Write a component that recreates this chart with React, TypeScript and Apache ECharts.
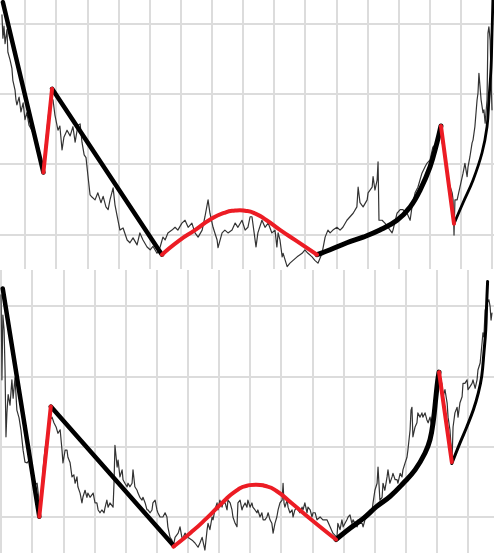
import React, { useEffect, useRef } from "react";
import * as echarts from "echarts";

// ---------- Top panel ----------
const topPrice: number[][] = [
  [2.6, 31.2], [2.9, 27.9], [3.25, 29.6], [3.6, 27.1], [4.2, 29.1], [4.5, 25.9], [5.2, 24.8], [5.8, 23.6],
  [6.1, 21.9], [6.8, 20.5], [7.1, 19.1], [7.4, 18.4], [8.1, 19.5], [8.7, 17.4], [9.4, 18.7], [10.0, 16.3],
  [10.6, 17.3], [11.3, 15.5], [12.2, 14.8], [13.2, 13.7], [14.2, 12.7], [14.8, 11.3], [15.5, 9.9], [15.8, 8.9],
  [16.4, 12.0], [17.1, 15.1], [17.7, 17.7], [18.4, 19.4], [19.0, 19.1], [19.6, 17.0], [20.6, 14.8], [21.2, 15.4],
  [21.9, 12.0], [22.5, 13.8], [23.5, 14.8], [24.5, 14.0], [25.4, 15.3], [26.1, 13.1], [27.0, 15.5], [27.7, 15.7],
  [28.3, 13.1], [29.0, 11.3], [29.6, 10.9], [30.2, 8.4], [30.9, 5.6], [31.5, 5.3], [32.5, 4.9], [33.4, 5.9],
  [34.4, 4.5], [35.1, 5.4], [36.0, 3.9], [36.7, 3.5], [37.3, 4.9], [38.3, 6.6], [38.9, 4.2], [39.6, 2.6],
  [40.5, 0.6], [41.5, 0.9], [42.8, -0.8], [43.7, -1.2], [44.7, -0.5], [46.0, -1.5], [46.9, 0.2], [47.9, -0.8],
  [49.2, -1.8], [50.2, -2.2], [51.1, -1.7], [52.4, -2.7], [53.4, -1.8], [54.3, -0.4],
  [55.0, -0.8], [55.9, 0.2], [57.2, 0.6], [58.2, 1.0], [59.1, 0.6], [60.4, 1.6], [61.4, 2.0], [62.4, 1.0],
  [63.6, 1.6], [64.6, 0.2], [65.6, -0.4], [66.9, 0.6], [67.8, 2.5], [68.8, 4.9], [69.4, 3.0], [70.4, 1.0],
  [71.7, -0.8], [72.0, -1.9], [73.3, 0.2], [74.2, 0.6], [75.2, 0.2], [76.5, 0.6], [77.5, 1.6], [78.4, 1.0],
  [79.7, 2.0], [80.7, 0.6], [81.6, 1.0], [82.3, 2.5], [82.9, 2.5], [83.6, 0.2], [84.2, -1.8], [84.8, 0.2],
  [86.1, 2.0], [87.1, 1.0], [88.1, 1.6], [89.3, 0.2], [90.3, 0.6], [90.9, -1.8], [91.3, 0.2], [91.9, -0.8],
  [92.6, -3.2], [92.9, -2.7], [94.2, -4.6], [95.1, -4.1], [96.1, -3.7], [97.4, -3.2], [99.0, -2.7], [99.9, -2.2],
  [100.9, -2.7], [102.2, -3.2], [103.1, -3.7], [104.1, -4.1], [105.4, -2.7], [106.4, -0.4], [107.3, 0.6],
  [108.0, 0.2], [108.9, 0.6], [110.2, 1.0], [111.2, 0.6], [112.1, 1.0], [113.4, 2.0], [114.4, 2.5], [115.4, 3.0],
  [116.6, 3.9], [117.0, 6.7], [117.6, 4.5], [118.6, 3.9], [119.9, 4.9], [120.2, 5.9], [121.5, 6.7], [121.8, 8.2],
  [122.4, 6.3], [123.1, 7.7], [123.4, 10.3], [123.7, 2.0], [124.7, 2.0], [125.6, 1.6], [126.6, 1.0], [127.9, 0.2],
  [128.2, 0.6], [129.5, 3.0], [130.5, 3.5], [131.4, 3.5], [132.7, 3.0], [133.7, 2.0], [134.3, 3.9], [135.3, 5.9],
  [136.2, 6.7], [137.5, 8.7], [138.5, 9.6], [139.1, 10.1], [140.1, 10.6], [141.0, 12.4], [142.3, 13.0], [143.3, 15.3],
  [144.0, 13.0], [144.3, 12.4], [144.9, 10.6], [145.9, 7.7], [147.2, 5.9], [147.5, 4.9], [147.8, -0.1], [148.1, 4.9],
  [148.8, 4.9], [149.7, 6.7], [150.7, 8.7], [151.3, 10.1], [152.0, 8.2], [152.3, 9.6], [152.9, 11.0], [153.6, 13.0],
  [153.9, 13.4], [154.5, 15.3], [155.2, 19.1], [155.5, 20.1], [155.8, 22.9], [156.5, 19.1], [157.1, 17.3], [157.4, 17.7],
  [157.8, 15.8], [158.4, 19.1], [158.7, 28.6], [159.0, 29.5], [159.4, 27.6], [159.7, 22.0], [160.0, 17.7],
];
const topBlackA: number[][] = [[2.9, 33.0], [15.9, 8.8]];
const topRed1: number[][] = [[15.9, 8.8], [18.7, 20.7]];
const topBlackB: number[][] = [[18.7, 20.7], [54.0, -2.9]];
const topRedArc: number[][] = [
  [54.0, -2.9], [59.5, -0.9], [64.6, 0.6], [69.5, 2.1], [74.0, 3.05], [77.5, 3.38], [79.0, 3.42],
  [80.7, 3.36], [84.0, 2.95], [87.6, 2.0], [92.0, 0.6], [96.7, -0.8], [103.8, -2.9],
];
const topBlackC: number[][] = [
  [103.8, -2.9], [108.0, -2.2], [113.4, -1.2], [118.6, -0.4], [124.0, 0.6], [129.5, 2.0], [133.7, 3.9],
  [136.9, 6.3], [140.1, 9.6], [142.3, 13.0], [143.6, 15.4],
];
const topRed2: number[][] = [[143.6, 15.4], [147.8, 1.5]];
const topBlackD: number[][] = [
  [147.8, 1.5], [150.7, 4.5], [153.9, 7.7], [156.8, 11.6], [158.4, 15.3], [159.0, 19.1], [159.7, 23.8],
  [160.0, 28.6], [160.3, 33.3],
];

// ---------- Bottom panel ----------
const bottomPrice: number[][] = [
  [0.0, 31.6], [0.2, 24.5], [0.3, 19.5], [0.6, 28.7], [1.0, 26.6], [1.3, 20.9], [1.6, 11.4], [1.9, 14.8],
  [2.3, 17.4], [2.9, 15.9], [3.5, 19.5], [3.9, 16.9], [4.5, 19.8], [5.1, 15.2], [5.8, 14.1], [6.4, 12.4],
  [7.1, 9.5], [7.7, 7.8], [8.4, 7.7], [9.0, 8.1], [10.0, 6.7], [10.9, 4.6], [11.6, 4.8], [12.2, 2.4],
  [12.5, 0.6], [13.5, 6.7], [14.1, 9.5], [15.1, 12.4], [15.7, 13.8], [16.4, 14.2], [17.0, 13.4], [17.7, 12.8],
  [18.3, 11.9], [19.0, 12.4], [19.6, 9.5], [19.9, 7.7], [20.6, 9.5], [21.2, 9.5], [21.5, 8.5], [22.2, 7.7],
  [22.8, 5.7], [23.4, 6.0], [23.8, 4.8], [24.4, 5.7], [24.7, 4.3], [25.4, 3.4], [26.0, 2.0], [26.3, 2.8],
  [27.0, 3.8], [27.6, 2.8], [27.9, 3.4], [28.6, 2.8], [29.6, 3.4], [30.2, 2.0], [30.8, 2.0], [31.2, 1.0],
  [31.8, 0.6], [32.4, 1.0], [33.1, 0.6], [33.4, 1.3], [34.0, 2.4], [34.4, 1.4], [35.0, 2.0], [36.0, 1.4],
  [36.3, 4.8], [36.6, 10.2], [37.3, 7.1], [37.6, 8.1], [38.2, 5.7], [38.9, 6.7], [39.2, 5.3], [39.8, 4.8],
  [40.5, 4.3], [40.8, 4.8], [41.4, 4.3], [42.1, 4.8], [42.4, 6.7], [43.0, 4.3], [43.7, 3.8], [44.0, 3.4],
  [44.6, 2.8], [45.3, 2.4], [45.6, 2.8], [46.3, 2.0], [46.9, 1.0], [47.2, 1.0], [47.9, 0.6], [48.5, 1.0],
  [48.8, 2.0], [49.5, 2.4], [50.1, 1.0], [50.4, 0.6], [51.1, 0.0], [52.0, 0.0],
  [52.7, 0.6], [53.3, 0.0], [53.6, -1.4], [54.3, -2.9], [54.9, -3.3], [55.3, -4.3], [55.9, -2.9], [56.9, -2.3],
  [57.5, -1.4], [58.1, -2.9], [58.5, -2.9], [59.1, -2.3], [60.1, -2.9], [61.4, -3.3], [62.3, -3.7], [63.3, -4.3],
  [63.9, -3.7], [64.6, -2.9], [65.5, -4.7], [66.2, -1.8], [66.5, -0.9], [67.1, -1.8], [67.8, 0.0], [68.1, -0.4],
  [68.7, 1.0], [69.4, 2.0], [69.7, 1.0], [70.3, 2.4], [71.0, 1.4], [71.3, 2.0], [72.0, 2.0], [72.6, 1.0],
  [72.9, 2.4], [73.6, 2.0], [74.2, 1.0], [74.5, 0.0], [75.2, -0.9], [75.8, -1.4], [76.1, 2.0], [76.8, 2.4],
  [77.4, 1.0], [77.7, 1.4], [78.4, 2.0], [79.0, 1.4], [79.3, 2.4], [80.0, 1.4], [80.6, 2.0], [80.9, 1.4],
  [81.6, 1.0], [82.2, 0.6], [82.5, 1.0], [83.2, 0.0], [83.8, 0.6], [84.2, -0.4], [84.8, -0.4], [85.4, 0.0],
  [85.8, 0.6], [86.4, -0.4], [87.0, -0.9], [87.4, -2.3], [88.0, -0.9], [88.6, 0.0], [89.0, 1.0], [89.6, 2.0],
  [90.3, 2.4], [90.6, 4.8], [90.9, 2.0], [91.2, 1.4], [91.9, 2.4], [92.2, 1.4], [92.8, 0.6], [93.5, 1.0],
  [93.8, 0.0], [94.4, 1.0], [95.1, 1.4], [95.4, 1.0], [96.0, 0.6], [96.7, 1.4], [97.0, 1.0], [97.6, 2.0],
  [98.3, 0.6], [98.6, 1.4], [99.3, 1.0], [99.9, 0.0], [100.2, 0.6], [100.9, 0.6], [101.5, -0.4], [102.5, 0.0],
  [103.4, -0.4], [104.7, -0.4],
  [105.7, -1.4], [106.6, -2.3], [107.9, -2.9], [108.2, -0.9], [108.9, -1.8], [109.5, -0.4], [109.9, -1.4], [110.5, -0.9],
  [111.1, -0.4], [111.5, 0.0], [112.1, 0.3], [112.7, -0.9], [113.1, -0.4], [113.7, -0.9], [114.4, -1.4], [114.7, -0.4],
  [115.3, -0.9], [116.0, -0.9], [116.3, -1.4], [116.9, -0.4], [117.6, 0.0], [117.9, 0.6], [118.5, 1.0], [119.2, 1.0],
  [119.5, 2.0], [120.1, 3.8], [120.8, 4.8], [121.1, 7.1], [121.7, 2.4], [122.4, 2.8], [122.7, 4.8], [123.3, 3.8],
  [124.0, 5.7], [124.3, 6.7], [124.9, 4.8], [125.6, 5.7], [125.9, 6.2], [126.6, 5.3], [127.2, 5.3], [127.5, 4.8],
  [128.2, 6.2], [128.8, 5.7], [129.1, 6.7], [129.8, 7.7], [130.4, 8.5], [130.7, 9.5], [131.4, 12.4], [131.7, 15.2],
  [132.0, 15.6], [132.3, 11.4], [133.0, 12.8], [133.6, 13.4], [133.9, 14.8], [134.6, 14.2], [135.2, 14.8], [135.5, 14.2],
  [136.2, 14.8], [136.8, 13.8], [137.2, 13.4], [137.8, 14.2], [138.4, 12.8], [138.8, 14.8], [139.4, 17.3], [140.0, 19.5],
  [140.7, 20.2], [141.6, 19.0], [142.0, 17.1], [142.6, 18.1], [143.3, 16.2], [143.6, 14.2], [144.2, 12.4], [144.5, 10.5],
  [144.9, 8.5], [145.2, 12.8], [145.8, 14.8], [146.5, 15.6], [146.8, 14.2], [147.4, 16.2], [148.1, 17.1], [148.4, 19.0],
  [149.0, 19.0], [149.7, 19.5], [150.0, 18.1], [150.6, 18.5], [151.3, 19.0], [151.6, 19.5], [152.3, 18.3], [152.9, 19.5],
  [153.2, 20.9], [153.9, 21.9], [154.5, 24.7], [154.8, 26.2], [155.1, 25.6], [155.5, 29.4], [156.1, 30.4], [156.7, 30.9],
  [157.1, 29.9], [157.4, 28.0], [157.7, 29.0],
];
const bottomBlackA: number[][] = [[0.55, 32.5], [12.3, 0.04]];
const bottomRed1: number[][] = [[12.3, 0.04], [16.0, 15.7]];
const bottomBlackB: number[][] = [[16.0, 15.7], [55.5, -4.1]];
const bottomRedArc: number[][] = [
  [55.4, -4.2], [61.0, -2.2], [66.0, -0.2], [71.0, 2.0], [75.5, 3.7], [79.0, 4.45], [82.0, 4.6],
  [85.0, 4.4], [88.5, 3.7], [93.4, 1.95], [99.8, -0.43], [107.6, -3.2],
];
const bottomBlackC: number[][] = [
  [107.6, -3.2], [112.1, -1.6], [116.4, -0.2], [120.7, 1.5], [124.9, 2.9], [129.2, 4.8], [133.0, 6.7],
  [136.2, 9.1], [137.8, 11.0], [138.9, 13.8], [139.7, 17.1], [140.3, 19.5], [140.7, 20.6],
];
const bottomRed2: number[][] = [[140.7, 20.6], [144.8, 7.8]];
const bottomBlackD: number[][] = [
  [144.8, 7.6], [147.4, 10.5], [149.6, 12.8], [151.7, 15.2], [153.3, 17.6], [154.4, 20.0], [155.1, 23.3],
  [155.7, 26.6], [156.0, 30.4], [156.3, 33.5],
];

const GRID_COLOR = "#dcdcdc";
const RED = "#ec1c24";
const BLACK = "#000000";
const PRICE = "#333333";

function valueAxis(gridIndex: number, min: number, max: number) {
  return {
    type: "value" as const,
    gridIndex,
    min,
    max,
    minInterval: 10,
    maxInterval: 10,
    axisLine: { show: false },
    axisTick: { show: false },
    axisLabel: { show: false },
    splitLine: {
      show: true,
      showMinLine: false,
      showMaxLine: false,
      lineStyle: { color: GRID_COLOR, width: 2 },
    },
  };
}

function lineSeries(idx: number, data: number[][], color: string, width: number, smooth: number | boolean, z: number) {
  return {
    type: "line" as const,
    xAxisIndex: idx,
    yAxisIndex: idx,
    data,
    symbol: "none",
    showSymbol: false,
    smooth,
    z,
    lineStyle: { color, width, cap: "round", join: "round" },
    emphasis: { disabled: true },
  };
}

export default function App() {
  const ref = useRef<HTMLDivElement>(null);
  useEffect(() => {
    if (!ref.current) return;
    document.body.style.margin = "0";
    const chart = echarts.init(ref.current, null, { renderer: "svg" });
    chart.setOption({
      animation: false,
      backgroundColor: "#ffffff",
      grid: [
        { left: 0, top: 0, width: 494, height: 269 },
        { left: 0, top: 270, width: 494, height: 283 },
      ],
      xAxis: [valueAxis(0, 1.97, 160.64), valueAxis(1, -0.32, 158.35)],
      yAxis: [valueAxis(0, -4.93, 33.32), valueAxis(1, -5.12, 35.12)],
      tooltip: { show: false },
      series: [
        lineSeries(0, topPrice, PRICE, 1.2, false, 2),
        lineSeries(0, topBlackA, BLACK, 4.5, false, 3),
        lineSeries(0, topBlackB, BLACK, 4.5, false, 3),
        lineSeries(0, topBlackC, BLACK, 5, 0.4, 3),
        lineSeries(0, topBlackD, BLACK, 2.8, 0.4, 3),
        lineSeries(0, topRed1, RED, 4, false, 4),
        lineSeries(0, topRedArc, RED, 4, 0.6, 4),
        lineSeries(0, topRed2, RED, 4, false, 4),
        lineSeries(1, bottomPrice, PRICE, 1.2, false, 2),
        lineSeries(1, bottomBlackA, BLACK, 4.5, false, 3),
        lineSeries(1, bottomBlackB, BLACK, 4.5, false, 3),
        lineSeries(1, bottomBlackC, BLACK, 5, 0.4, 3),
        lineSeries(1, bottomBlackD, BLACK, 3, 0.4, 3),
        lineSeries(1, bottomRed1, RED, 4, false, 4),
        lineSeries(1, bottomRedArc, RED, 4, 0.6, 4),
        lineSeries(1, bottomRed2, RED, 4, false, 4),
      ],
    });
    return () => chart.dispose();
  }, []);
  return (
    <div style={{ position: "fixed", left: 0, top: 0, width: 494, height: 553, background: "#fff" }}>
      <div ref={ref} style={{ width: 494, height: 553 }} />
    </div>
  );
}
